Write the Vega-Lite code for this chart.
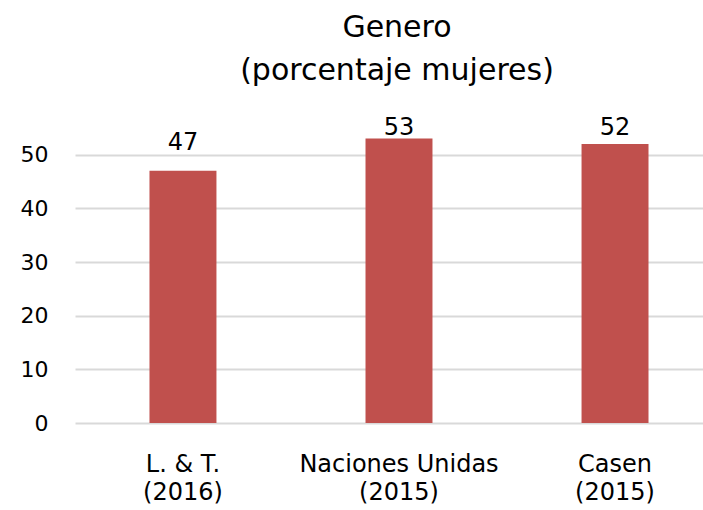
{
  "$schema": "https://vega.github.io/schema/vega-lite/v6.json",
  "autosize": {"type": "none"},
  "width": 628,
  "height": 322,
  "padding": {"left": 75, "top": 101, "right": 0, "bottom": 87},
  "background": "white",
  "config": {
    "font": "DejaVu Sans",
    "view": {"stroke": null},
    "axis": {"labelFont": "DejaVu Sans", "labelColor": "#000000"}
  },
  "title": {
    "text": ["Genero", "(porcentaje mujeres)"],
    "fontSize": 30,
    "fontWeight": "normal",
    "font": "DejaVu Sans",
    "color": "#000000",
    "lineHeight": 43,
    "anchor": "middle",
    "dx": 8,
    "offset": 15
  },
  "data": {
    "values": [
      {"fuente": "L. & T.|(2016)", "valor": 47},
      {"fuente": "Naciones Unidas|(2015)", "valor": 53},
      {"fuente": "Casen|(2015)", "valor": 52}
    ]
  },
  "encoding": {
    "x": {
      "field": "fuente",
      "type": "nominal",
      "sort": null,
      "scale": {"paddingInner": 0.69, "paddingOuter": 0.2985, "align": 0.5775},
      "axis": {
        "title": null,
        "labelAngle": 0,
        "labelFontSize": 24,
        "labelLimit": 400,
        "labelExpr": "split(datum.label, '|')",
        "labelLineHeight": 28,
        "labelPadding": 29,
        "labelOverlap": false,
        "ticks": false,
        "domain": false
      }
    },
    "y": {
      "field": "valor",
      "type": "quantitative",
      "scale": {"domain": [0, 60], "nice": false},
      "axis": {
        "title": null,
        "values": [0, 10, 20, 30, 40, 50],
        "labelFontSize": 22,
        "labelPadding": 27,
        "ticks": false,
        "domain": false,
        "gridColor": "#d9d9d9",
        "gridWidth": 2
      }
    }
  },
  "layer": [
    {"mark": {"type": "bar", "color": "#c0504d"}},
    {
      "transform": [{"filter": "datum.valor == 47"}],
      "mark": {"type": "text", "dy": -21, "fontSize": 24, "color": "#000000", "baseline": "alphabetic"},
      "encoding": {"text": {"field": "valor", "type": "quantitative"}}
    },
    {
      "transform": [{"filter": "datum.valor == 53"}],
      "mark": {"type": "text", "dy": -4, "fontSize": 24, "color": "#000000", "baseline": "alphabetic"},
      "encoding": {"text": {"field": "valor", "type": "quantitative"}}
    },
    {
      "transform": [{"filter": "datum.valor == 52"}],
      "mark": {"type": "text", "dy": -9, "fontSize": 24, "color": "#000000", "baseline": "alphabetic"},
      "encoding": {"text": {"field": "valor", "type": "quantitative"}}
    }
  ]
}
